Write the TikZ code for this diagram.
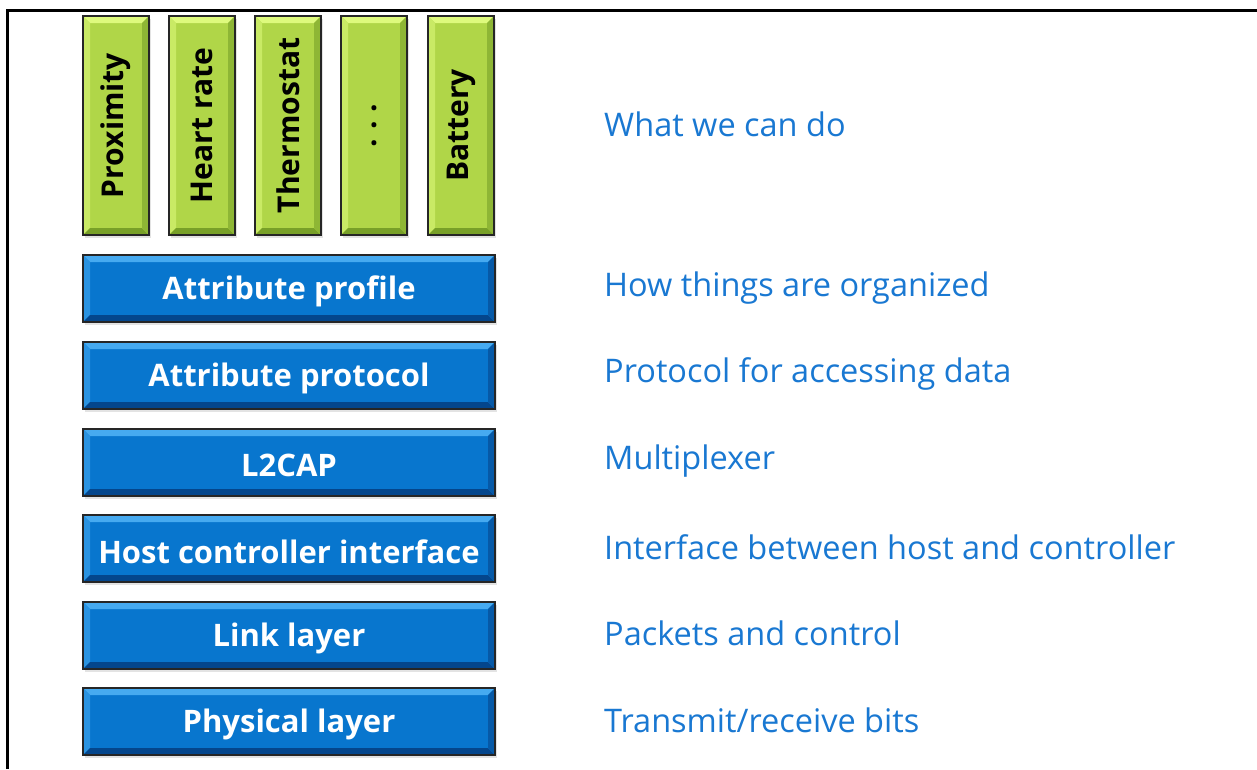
\documentclass[tikz,border=0pt]{standalone}
\usepackage{fontspec}
\setmainfont{Open Sans}
\usetikzlibrary{shadows}
\definecolor{bmain}{RGB}{8,118,206}
\definecolor{blight}{RGB}{70,170,240}
\definecolor{bdark}{RGB}{4,70,140}
\definecolor{gmain}{RGB}{176,214,72}
\definecolor{glight}{RGB}{222,250,125}
\definecolor{gdark}{RGB}{120,160,40}
\definecolor{lbl}{RGB}{25,120,210}
\tikzset{
  bevel/.style n args={3}{fill=#1, draw=black!85, line width=1.3pt,
    drop shadow={shadow xshift=1.5pt, shadow yshift=-3pt, opacity=0.18, fill=black!60},
    path picture={
      \path (path picture bounding box.north west) coordinate (ppnw)
            (path picture bounding box.north east) coordinate (ppne)
            (path picture bounding box.south west) coordinate (ppsw)
            (path picture bounding box.south east) coordinate (ppse);
      \fill[#2] (ppnw) -- (ppne) -- ([shift={(-7pt,-7pt)}]ppne) -- ([shift={(7pt,-7pt)}]ppnw) -- cycle;
      \fill[#2!55!#1] (ppnw) -- ([shift={(7pt,-7pt)}]ppnw) -- ([shift={(7pt,7pt)}]ppsw) -- (ppsw) -- cycle;
      \fill[#3] (ppsw) -- (ppse) -- ([shift={(-7pt,7pt)}]ppse) -- ([shift={(7pt,7pt)}]ppsw) -- cycle;
      \fill[#3!60!#1] (ppne) -- (ppse) -- ([shift={(-7pt,7pt)}]ppse) -- ([shift={(-7pt,-7pt)}]ppne) -- cycle;
    }},
  layerbox/.style={bevel={bmain}{blight}{bdark}, minimum width=412pt, minimum height=67pt,
    inner sep=0pt, text=white, font=\fontsize{31}{34}\selectfont\bfseries},
  appbox/.style={bevel={gmain}{glight}{gdark}, minimum width=66pt, minimum height=219pt,
    inner sep=0pt, text=black, font=\fontsize{30}{34}\selectfont\bfseries},
  desc/.style={anchor=west, inner sep=0pt, text=lbl, font=\fontsize{32.5}{36}\selectfont},
}
\newcommand{\lowered}[1]{\raisebox{-3pt}[\height][\depth]{#1}}
\begin{document}
\begin{tikzpicture}[x=1pt,y=-1pt]
\useasboundingbox (0,0) rectangle (1257,769);
\fill[white] (0,0) rectangle (1257,769);
\draw[line width=3pt] (7,769) -- (7,10) -- (1257,10);

\node[appbox] (prox) at (116,125.5) {\rotatebox{90}{Proximity}};
\node[appbox] (heart) at (202,125.5) {\rotatebox{90}{Heart rate}};
\node[appbox] (thermo) at (288,125.5) {\rotatebox{90}{Thermostat}};
\node[appbox] (dots) at (374,125.5) {\rotatebox{90}{.\hspace{0.3em}.\hspace{0.3em}.}};
\node[appbox] (batt) at (461,125.5) {\rotatebox{90}{Battery}};

\node[layerbox] (aprof) at (289,288.5) {\lowered{Attribute profile}};
\node[layerbox] (aprot) at (289,375.5) {\lowered{Attribute protocol}};
\node[layerbox] (l2cap) at (289,462.5) {\lowered{L2CAP}};
\node[layerbox] (hci) at (289,548.5) {\lowered{Host controller interface}};
\node[layerbox] (link) at (289,635.5) {\lowered{Link layer}};
\node[layerbox] (phys) at (289,721.5) {\lowered{Physical layer}};

\node[desc] (d1) at (604,124) {What we can do};
\node[desc] (d2) at (604,288) {How things are organized};
\node[desc] (d3) at (604,374) {Protocol for accessing data};
\node[desc] (d4) at (604,461) {Multiplexer};
\node[desc] (d5) at (604,547) {Interface between host and controller};
\node[desc] (d6) at (604,633) {Packets and control};
\node[desc] (d7) at (604,720) {Transmit/receive bits};
\end{tikzpicture}
\end{document}
